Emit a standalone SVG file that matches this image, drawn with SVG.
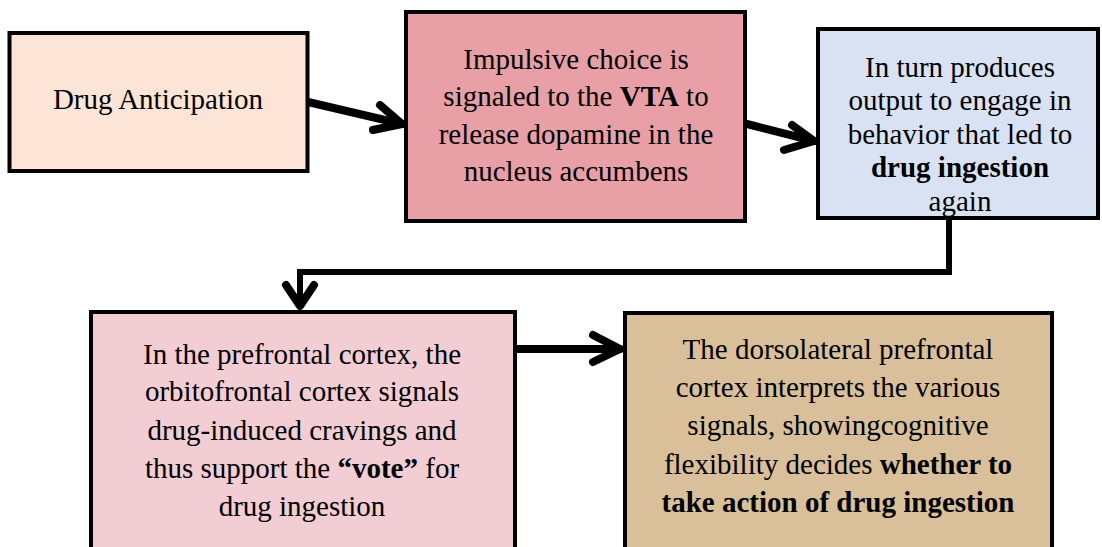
<svg xmlns="http://www.w3.org/2000/svg" width="1102" height="547" viewBox="0 0 1102 547">
<style>
.box{stroke:#000;stroke-width:4}
text{font-family:"Liberation Serif","Times New Roman",serif;font-size:29px;fill:#000;text-anchor:middle}
.b{font-weight:bold}
.ln{fill:none;stroke:#000;stroke-width:8;stroke-linecap:round;stroke-linejoin:round}
.con{fill:none;stroke:#000;stroke-width:6}
</style>
<rect width="1102" height="547" fill="#fff"/>
<g id="connectors">
<polyline class="ln" points="308,102 402,124"/>
<polyline class="ln" points="380,105 402,124 373,130"/>
<polyline class="ln" points="747,124 814,141"/>
<polyline class="ln" points="792,125 814,141 784,150"/>
<polyline class="ln" points="517,349 620,349"/>
<polyline class="ln" points="593,335 620,349 593,362"/>
<polyline class="con" points="949,218 949,272 300,272 300,300"/>
<polyline class="ln" points="286,285 300,306 314,285"/>
</g>
<g id="n1">
<rect class="box" x="9.5" y="33" width="298" height="138" fill="#FCE4D6"/>
<text x="158" y="109">Drug Anticipation</text>
</g>
<g id="n2">
<rect class="box" x="406" y="12" width="339" height="209" fill="#E8A0A6"/>
<text x="576" y="69">Impulsive choice is</text>
<text x="576" y="106">signaled to the <tspan class="b">VTA</tspan> to</text>
<text x="576" y="144">release dopamine in the</text>
<text x="576" y="181">nucleus accumbens</text>
</g>
<g id="n3">
<rect class="box" x="818" y="29" width="280" height="189" fill="#D9E2F3"/>
<text x="960" y="77">In turn produces</text>
<text x="960" y="110">output to engage in</text>
<text x="960" y="144">behavior that led to</text>
<text x="960" y="177" class="b">drug ingestion</text>
<text x="960" y="211">again</text>
</g>
<g id="n4">
<rect class="box" x="91" y="312" width="424" height="240" fill="#F2CDD3"/>
<text x="302" y="364">In the prefrontal cortex, the</text>
<text x="302" y="401">orbitofrontal cortex signals</text>
<text x="302" y="440">drug-induced cravings and</text>
<text x="302" y="478">thus support the <tspan class="b">“vote”</tspan> for</text>
<text x="302" y="516">drug ingestion</text>
</g>
<g id="n5">
<rect class="box" x="625" y="313" width="427" height="240" fill="#D9C09A"/>
<text x="838" y="359">The dorsolateral prefrontal</text>
<text x="838" y="397">cortex interprets the various</text>
<text x="838" y="435">signals, showingcognitive</text>
<text x="838" y="474">flexibility decides <tspan class="b">whether to</tspan></text>
<text x="838" y="512" class="b">take action of drug ingestion</text>
</g>
</svg>
